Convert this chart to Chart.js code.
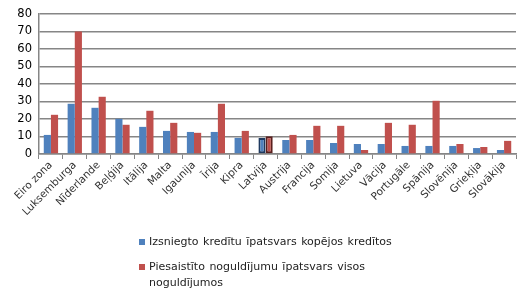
<!DOCTYPE html>
<html>
<head>
<meta charset="utf-8">
<script src="https://cdn.jsdelivr.net/npm/chart.js@4/dist/chart.umd.min.js"></script>
<style>
    body { margin: 0; background: #fff; }
    #wrap { position: relative; width: 526px; height: 298px; }
    #legend { position: absolute; left: 139px; top: 234px; width: 260px; font: 11px "DejaVu Sans", sans-serif; color: #222; word-spacing: 1px; }
    .item { position: relative; padding-left: 10px; line-height: 16px; margin-bottom: 9px; }
    .sw { position: absolute; left: 0; top: 5px; width: 6px; height: 6px; }
</style>
</head>
<body>
<div id="wrap">
    <canvas id="chart" width="526" height="298"></canvas>
    <div id="legend">
        <div class="item"><span class="sw" style="background:#4F81BD"></span>Izsniegto kredītu īpatsvars kopējos kredītos</div>
        <div class="item"><span class="sw" style="background:#C0504D"></span>Piesaistīto noguldījumu īpatsvars visos noguldījumos</div>
    </div>
</div>
<script>
const countries = ['Eiro zona', 'Luksemburga', 'Nīderlande', 'Beļģija', 'Itālija', 'Malta', 'Igaunija', 'Īrija', 'Kipra', 'Latvija',
    'Austrija', 'Francija', 'Somija', 'Lietuva', 'Vācija', 'Portugāle', 'Spānija', 'Slovēnija', 'Grieķija', 'Slovākija'];
const loans = [10.9, 28.7, 26.4, 20.1, 15.5, 13.2, 12.6, 12.6, 9.2, 9.2, 8.0, 8.0, 6.3, 5.7, 5.7, 4.6, 4.6, 4.6, 3.4, 2.3];
const deposits = [22.4, 70, 32.7, 16.7, 24.7, 17.8, 12.1, 28.7, 13.2, 10.1, 10.9, 16.1, 16.1, 2.3, 17.8, 16.7, 30.4, 5.7, 4.0, 7.5];
const yTicks = [0, 10, 20, 30, 40, 50, 60, 70, 80];

// Latvija is outlined in the original
const highlight = 'Latvija';
const blueBorder = countries.map(c => c === highlight ? '#1F3A60' : '#4F81BD');
const redBorder = countries.map(c => c === highlight ? '#5A1F1D' : '#C0504D');
const bw = countries.map(c => c === highlight ? 2 : 0);

const ctx = document.getElementById("chart").getContext("2d");
const chart = new Chart(ctx, {
    type: 'bar',
    data: {
        labels: countries,
        datasets: [
            { label: 'Izsniegto kredītu īpatsvars kopējos kredītos', data: loans,
              backgroundColor: '#4F81BD', borderColor: blueBorder, borderWidth: bw, borderSkipped: false },
            { label: 'Piesaistīto noguldījumu īpatsvars visos noguldījumos', data: deposits,
              backgroundColor: '#C0504D', borderColor: redBorder, borderWidth: bw, borderSkipped: false }
        ]
    },
    options: {
        responsive: false,
        animation: false,
        layout: { padding: { top: 14, right: 10, left: 0, bottom: 0 } },
        datasets: { bar: { categoryPercentage: 0.6, barPercentage: 1 } },
        plugins: { legend: { display: false }, tooltip: { enabled: false } },
        scales: {
            x: {
                grid: { offset: true, drawOnChartArea: false, color: '#868686', lineWidth: 1, tickLength: 5 },
                border: { color: '#868686', width: 1.5 },
                ticks: { maxRotation: 45, minRotation: 45, color: '#333', font: { family: 'DejaVu Sans', size: 10.5 }, padding: 0 },
                afterFit: s => { s.height = 144; }
            },
            y: {
                min: 0, max: 80,
                afterBuildTicks: s => { s.ticks = yTicks.map(v => ({ value: v })); },
                grid: { color: '#868686', lineWidth: 1.5, drawTicks: false },
                border: { color: '#868686', width: 1.5 },
                ticks: { color: '#000', font: { family: 'DejaVu Sans', size: 11.5 }, padding: 7 },
                afterFit: s => { s.width = 39; }
            }
        }
    }
});
</script>
</body>
</html>
